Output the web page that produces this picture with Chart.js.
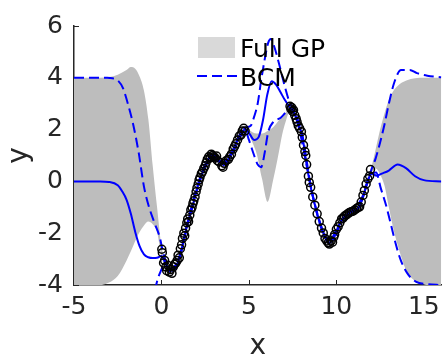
<!DOCTYPE html>
<html>
<head>
<meta charset="utf-8">
<script src="https://cdn.jsdelivr.net/npm/chart.js@4.4.1/dist/chart.umd.min.js"></script>
<style>
  body { margin: 0; background: #fff; }
  canvas { display: block; }
</style>
</head>
<body>
<canvas id="gpChart" width="447" height="358"></canvas>
<script>
    // Axis ticks and legend labels
    const xTicks = [-5, 0, 5, 10, 15];
    const yTicks = [-4, -2, 0, 2, 4, 6];
    const legendLabels = ['Full GP', 'BCM'];

    // Full GP confidence band (upper / lower share the same x values)
    const bandX = [-5, -4, -3, -2.5, -2, -1.75, -1.5, -1.25, -1, -0.75, -0.5, -0.25, 0,
        0.25, 0.5, 0.75, 1, 1.25, 1.5, 1.75, 2, 2.25, 2.5, 2.75, 3, 3.25, 3.5, 3.75, 4, 4.25, 4.5,
        4.8, 5.0, 5.2, 5.45, 5.75, 6.07, 6.4, 6.7, 6.9, 7.1, 7.3,
        7.55, 7.8, 8.05, 8.3, 8.55, 8.8, 9.05, 9.3, 9.55, 9.8, 10.05, 10.3, 10.55, 10.8, 11.05, 11.3, 11.55, 11.8,
        12.0, 12.25, 12.5, 12.75, 13.0, 13.25, 13.5, 13.75, 14.0, 14.5, 15.0, 15.5, 16];
    const gpUpper = [4.0, 4.0, 4.03, 4.12, 4.3, 4.42, 4.35, 4.05, 3.5, 2.4, 0.6, -1.0, -2.5,
        -3.05, -3.3, -3.25, -2.85, -2.2, -1.45, -0.9, -0.2, 0.3, 0.75, 1.07, 1.15, 0.97, 0.81, 0.95, 1.2, 1.6, 1.93,
        2.12, 2.0, 1.9, 1.85, 1.85, 1.95, 2.1, 2.35, 2.5, 2.65, 2.9,
        2.85, 2.4, 1.9, 0.8, -0.13, -0.83, -1.45, -1.9, -2.23, -2.1, -1.7, -1.35, -1.17, -1.05, -0.97, -0.83, -0.4, 0.2,
        0.55, 1.25, 2.0, 2.62, 3.15, 3.48, 3.68, 3.82, 3.9, 3.98, 4.0, 4.0, 4.0];
    const gpLower = [-4.05, -4.05, -3.9, -3.65, -3.06, -2.7, -2.3, -1.95, -1.7, -1.55, -1.65, -1.95, -2.9,
        -3.35, -3.6, -3.55, -3.15, -2.5, -1.75, -1.2, -0.5, 0.0, 0.45, 0.77, 0.85, 0.67, 0.51, 0.65, 0.9, 1.3, 1.63,
        1.9, 1.8, 1.5, 1.05, 0.1, -0.79, 0.1, 1.09, 1.8, 2.3, 2.65,
        2.55, 2.1, 1.6, 0.5, -0.43, -1.13, -1.75, -2.2, -2.53, -2.4, -2.0, -1.65, -1.47, -1.35, -1.27, -1.13, -0.7, -0.1,
        0.3, 0.5, 0.28, -0.16, -1.0, -1.8, -2.45, -3.0, -3.45, -3.85, -3.97, -4.05, -4.05];

    // BCM mean (solid line)
    const meanX = [-5, -3.5, -3, -2.5, -2.25, -2, -1.75, -1.5, -1.25, -1, -0.75, -0.5, -0.25, 0,
        0.25, 0.5, 0.75, 1, 1.25, 1.5, 1.75, 2, 2.25, 2.5, 2.75, 3, 3.25, 3.5, 3.75, 4, 4.25, 4.5,
        4.8, 5.05, 5.3, 5.55, 5.8, 6.05, 6.3, 6.55, 6.8, 7.05, 7.3,
        7.55, 7.8, 8.05, 8.3, 8.55, 8.8, 9.05, 9.3, 9.55, 9.8, 10.05, 10.3, 10.55, 10.8, 11.05, 11.3, 11.55, 11.8,
        12.05, 12.3, 12.6, 13, 13.5, 14, 14.5, 15, 16];
    const meanY = [0, 0, -0.02, -0.15, -0.38, -0.7, -1.25, -1.95, -2.5, -2.82, -2.93, -2.96, -2.95, -2.88,
        -3.2, -3.45, -3.4, -3.0, -2.35, -1.6, -1.05, -0.35, 0.15, 0.6, 0.92, 1.0, 0.82, 0.66, 0.8, 1.05, 1.45, 1.78,
        2.0, 1.82, 1.6, 1.7, 2.35, 3.35, 3.87, 3.74, 3.45, 3.15, 2.9,
        2.7, 2.25, 1.75, 0.65, -0.28, -0.98, -1.6, -2.05, -2.38, -2.25, -1.85, -1.5, -1.32, -1.2, -1.12, -0.98, -0.55, 0.05,
        0.3, 0.22, 0.3, 0.42, 0.65, 0.5, 0.2, 0.05, 0.0];

    // BCM upper and lower bounds (dashed lines)
    const bcmUpX = [-5, -3.5, -3.1, -2.8, -2.5, -2.2, -1.9, -1.6, -1.3, -1.0, -0.75, -0.4, -0.1,
        0.1, 0.5, 1, 1.5, 2, 2.5, 3, 3.5, 4, 4.5,
        4.8, 5.1, 5.3, 5.5, 5.7, 5.9, 6.1, 6.25, 6.45, 6.7, 7.0, 7.3,
        7.55, 8.05, 8.55, 9.05, 9.55, 10.05, 10.55, 11.05, 11.55,
        12.0, 12.25, 12.5, 12.75, 13.0, 13.3, 13.7, 14.2, 14.6, 15.2, 16];
    const bcmUpY = [4.0, 4.0, 4.0, 3.98, 3.9, 3.6, 2.95, 2.15, 1.1, -0.2, -0.9, -1.6, -2.15,
        -2.75, -3.38, -2.95, -1.55, -0.3, 0.65, 1.05, 0.72, 1.1, 1.83,
        2.08, 2.15, 2.5, 3.0, 3.9, 4.7, 5.35, 5.5, 5.2, 4.6, 3.8, 3.1,
        2.78, 1.8, -0.22, -1.55, -2.33, -1.8, -1.27, -1.07, -0.5,
        0.45, 0.9, 1.5, 2.2, 3.0, 3.8, 4.3, 4.3, 4.18, 4.08, 4.02];
    const bcmLoX = [-5, -3.2, -2.5, -2, -1.5, -1, -0.6, -0.3,
        0, 0.2, 0.5, 1, 1.5, 2, 2.5, 3, 3.5, 4, 4.5,
        4.8, 5.0, 5.3, 5.5, 5.7, 5.9, 6.1, 6.4, 6.8, 7.1, 7.4,
        7.8, 8.3, 8.8, 9.3, 9.8, 10.3, 10.8, 11.3, 11.8,
        12.0, 12.27, 12.55, 12.84, 13.12, 13.4, 13.69, 14.07, 14.54, 15.2, 16];
    const bcmLoY = [-4.15, -4.2, -4.4, -5.0, -5.6, -5.8, -5.3, -4.0,
        -3.4, -3.15, -3.52, -3.05, -1.65, -0.4, 0.55, 0.95, 0.62, 1.0, 1.72,
        1.95, 1.6, 1.0, 0.65, 0.55, 1.1, 1.9, 2.3, 2.45, 2.65, 2.8,
        2.22, 0.62, -1.0, -2.07, -2.27, -1.52, -1.22, -1.0, 0.02,
        0.3, 0.34, -0.29, -0.92, -1.67, -2.43, -3.06, -3.56, -3.87, -3.97, -4.0];

    // Observations (black circles)
    const ptX = [0.02, 0.05, 0.12, 0.18, 0.25, 0.3, 0.38, 0.45, 0.52, 0.6, 0.68, 0.75, 0.82, 0.9, 0.95, 1.02, 1.08, 1.15, 1.2, 1.28,
        1.33, 1.38, 1.45, 1.5, 1.55, 1.62, 1.68, 1.75, 1.8, 1.85, 1.92, 1.98, 2.03, 2.1, 2.15, 2.2, 2.28, 2.35, 2.42, 2.5,
        2.55, 2.62, 2.7, 2.78, 2.85, 2.92, 3.0, 3.08, 3.15, 3.2, 3.3, 3.45, 3.52, 3.6, 3.7, 3.82, 3.9, 4.0, 4.1, 4.18,
        4.25, 4.35, 4.45, 4.55, 4.62, 4.7, 4.78,
        7.35, 7.4, 7.45, 7.5, 7.55, 7.62, 7.7, 7.75, 7.82, 7.9, 8.0, 8.05, 8.12, 8.2, 8.25, 8.3, 8.4, 8.45, 8.53, 8.65,
        8.77, 8.9, 9.02, 9.15, 9.25, 9.35, 9.45, 9.53, 9.6, 9.7, 9.78, 9.85, 9.9, 10.0, 10.1, 10.2, 10.3, 10.38, 10.45, 10.55,
        10.65, 10.75, 10.85, 10.95, 11.05, 11.15, 11.25, 11.33, 11.42, 11.52, 11.6, 11.7, 11.8, 11.9, 11.95];
    const ptY = [-2.62, -2.75, -3.15, -3.05, -3.3, -3.45, -3.25, -3.5, -3.4, -3.55, -3.3, -3.2, -3.15, -3.05, -2.85, -2.95, -2.6, -2.45, -2.2, -2.0,
        -2.1, -1.8, -1.6, -1.45, -1.55, -1.3, -1.1, -1.0, -0.85, -0.75, -0.6, -0.4, -0.25, -0.1, 0.05, 0.15, 0.3, 0.38, 0.5, 0.6,
        0.72, 0.85, 0.95, 0.9, 1.05, 1.0, 0.95, 0.9, 0.98, 0.8, 0.75, 0.6, 0.55, 0.7, 0.8, 0.85, 0.95, 1.05, 1.25, 1.35,
        1.45, 1.6, 1.75, 1.8, 1.95, 2.05, 1.95,
        2.9, 2.8, 2.85, 2.7, 2.75, 2.55, 2.42, 2.3, 2.15, 2.05, 1.92, 1.7, 1.4, 1.15, 1.0, 0.65, 0.2, -0.04, -0.23, -0.6,
        -0.92, -1.25, -1.55, -1.8, -1.99, -2.2, -2.3, -2.37, -2.42, -2.3, -2.35, -2.15, -2.05, -1.85, -1.75, -1.6, -1.45, -1.42, -1.35, -1.3,
        -1.25, -1.2, -1.17, -1.15, -1.1, -1.05, -1.0, -0.98, -0.8, -0.54, -0.35, -0.1, 0.1, 0.21, 0.46];

    const toPoints = (xs, ys) => xs.map((x, i) => ({ x: x, y: ys[i] }));

    const axisColor = '#262626';
    const fontFamily = '"DejaVu Sans", sans-serif';
    const dashPattern = [10, 5];

    // small inward tick marks like MATLAB axes
    const inwardTicks = {
        id: 'inwardTicks',
        beforeDatasetsDraw(chart) {
            const { ctx, chartArea, scales } = chart;
            ctx.save();
            ctx.strokeStyle = axisColor;
            ctx.lineWidth = 1;
            xTicks.forEach(v => {
                const px = Math.round(scales.x.getPixelForValue(v)) + 0.5;
                ctx.beginPath();
                ctx.moveTo(px, chartArea.bottom);
                ctx.lineTo(px, chartArea.bottom - 5);
                ctx.stroke();
            });
            yTicks.forEach(v => {
                const py = Math.round(scales.y.getPixelForValue(v)) + 0.5;
                ctx.beginPath();
                ctx.moveTo(chartArea.left, py);
                ctx.lineTo(chartArea.left + 5, py);
                ctx.stroke();
            });
            ctx.restore();
        }
    };

    // legend drawn inside the plot, without a box
    const gpLegend = {
        id: 'gpLegend',
        afterDatasetsDraw(chart) {
            const ctx = chart.ctx;
            ctx.save();
            ctx.fillStyle = '#d9d9d9';
            ctx.fillRect(198, 37, 37, 21);
            ctx.strokeStyle = '#0000ff';
            ctx.lineWidth = 2;
            ctx.setLineDash(dashPattern);
            ctx.beginPath();
            ctx.moveTo(197, 76);
            ctx.lineTo(237, 76);
            ctx.stroke();
            ctx.setLineDash([]);
            ctx.fillStyle = '#000';
            ctx.font = '25px ' + fontFamily;
            ctx.textBaseline = 'alphabetic';
            ctx.fillText(legendLabels[0], 240, 57);
            ctx.fillText(legendLabels[1], 240, 86);
            ctx.restore();
        }
    };

    const ctx = document.getElementById('gpChart').getContext('2d');
    new Chart(ctx, {
        type: 'scatter',
        data: {
            datasets: [
                {
                    label: 'data',
                    data: toPoints(ptX, ptY),
                    pointRadius: 4,
                    pointBorderWidth: 1.5,
                    borderColor: '#000',
                    backgroundColor: 'rgba(0,0,0,0)',
                    order: 0
                },
                {
                    label: 'BCM upper',
                    data: toPoints(bcmUpX, bcmUpY),
                    showLine: true,
                    borderColor: '#0000ff',
                    borderWidth: 2,
                    borderDash: dashPattern,
                    pointRadius: 0,
                    cubicInterpolationMode: 'monotone',
                    order: 1
                },
                {
                    label: 'BCM lower',
                    data: toPoints(bcmLoX, bcmLoY),
                    showLine: true,
                    borderColor: '#0000ff',
                    borderWidth: 2,
                    borderDash: dashPattern,
                    pointRadius: 0,
                    cubicInterpolationMode: 'monotone',
                    order: 1
                },
                {
                    label: 'BCM mean',
                    data: toPoints(meanX, meanY),
                    showLine: true,
                    borderColor: '#0000ff',
                    borderWidth: 2,
                    pointRadius: 0,
                    cubicInterpolationMode: 'monotone',
                    order: 2
                },
                {
                    label: 'GP lower',
                    data: toPoints(bandX, gpLower),
                    showLine: true,
                    borderWidth: 0,
                    borderColor: 'rgba(0,0,0,0)',
                    pointRadius: 0,
                    cubicInterpolationMode: 'monotone',
                    order: 3
                },
                {
                    label: 'GP upper',
                    data: toPoints(bandX, gpUpper),
                    showLine: true,
                    borderWidth: 0,
                    borderColor: 'rgba(0,0,0,0)',
                    backgroundColor: '#bdbdbd',
                    fill: '-1',
                    pointRadius: 0,
                    cubicInterpolationMode: 'monotone',
                    order: 4
                }
            ]
        },
        options: {
            responsive: false,
            animation: false,
            devicePixelRatio: 1,
            layout: { padding: { top: 20, right: 3, left: 0, bottom: 0 } },
            plugins: {
                legend: { display: false },
                tooltip: { enabled: false }
            },
            scales: {
                x: {
                    type: 'linear',
                    min: -5,
                    max: 16,
                    afterBuildTicks: s => { s.ticks = xTicks.map(v => ({ value: v })); },
                    afterFit: s => { s.height = 73; },
                    grid: { display: false, drawTicks: false },
                    border: { display: true, color: axisColor, width: 1.5 },
                    ticks: { color: axisColor, font: { family: fontFamily, size: 25 }, padding: 7, maxRotation: 0, autoSkip: false },
                    title: { display: true, text: 'x', color: axisColor, font: { family: fontFamily, size: 28, lineHeight: 1 }, padding: { top: 0, bottom: -3 } }
                },
                y: {
                    type: 'linear',
                    min: -4,
                    max: 6,
                    afterBuildTicks: s => { s.ticks = yTicks.map(v => ({ value: v })); },
                    afterFit: s => { s.width = 74; },
                    grid: { display: false, drawTicks: false },
                    border: { display: true, color: axisColor, width: 1.5 },
                    ticks: { color: axisColor, font: { family: fontFamily, size: 25 }, padding: 11, autoSkip: false },
                    title: { display: true, text: 'y', color: axisColor, font: { family: fontFamily, size: 28, lineHeight: 1 }, padding: { top: 6, bottom: 0 } }
                }
            }
        },
        plugins: [inwardTicks, gpLegend]
    });
</script>
</body>
</html>
